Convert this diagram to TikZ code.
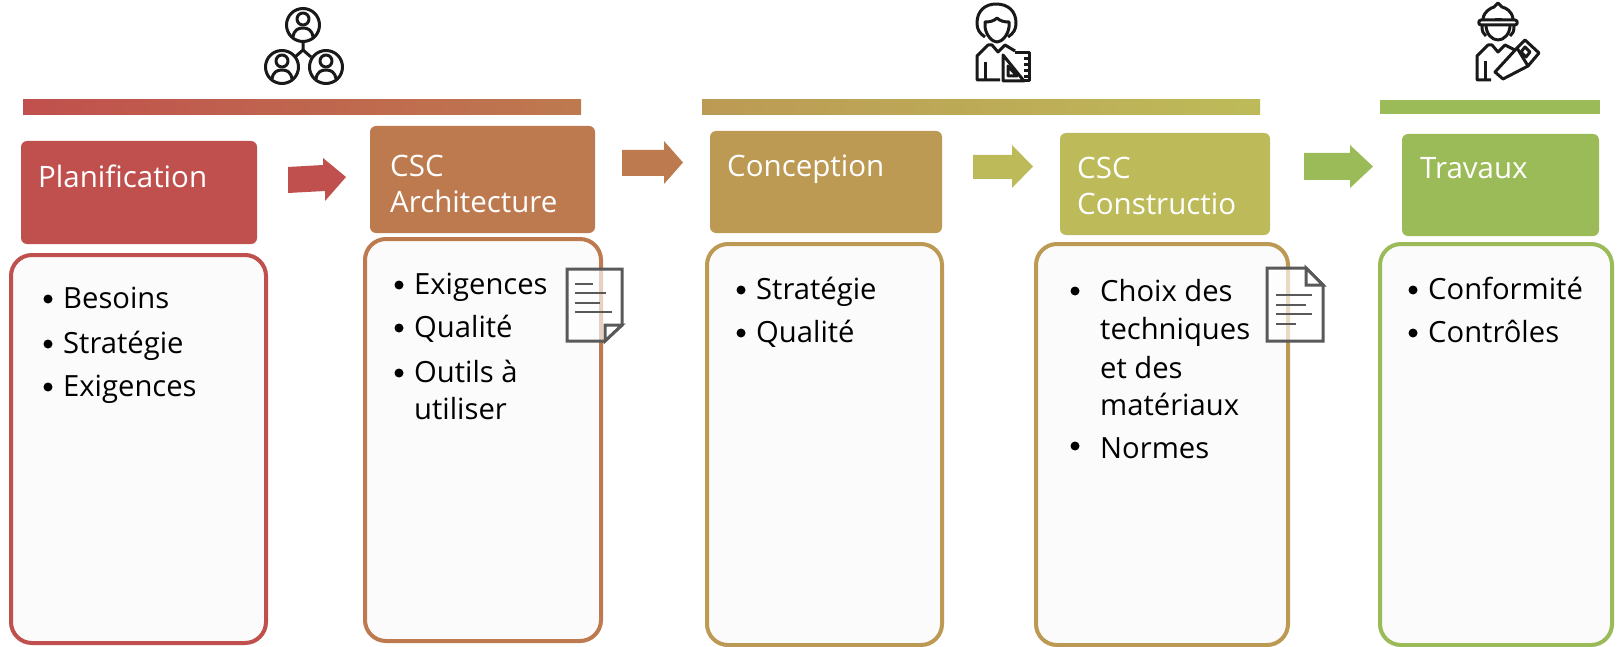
\documentclass[tikz,border=0pt]{standalone}
\usepackage{fontspec}
\setmainfont{Open Sans}
\definecolor{cA}{HTML}{C0504D}
\definecolor{cB}{HTML}{BE7A4F}
\definecolor{cC}{HTML}{BC9A54}
\definecolor{cD}{HTML}{BDBB59}
\definecolor{cE}{HTML}{9BBB59}
\tikzset{
 x=1pt,y=-1pt,
 head/.style={text=white,font=\fontsize{29.5}{36}\selectfont,align=left,anchor=north west,inner sep=0pt},
 hbox/.style={rounded corners=6pt},
 panel/.style={draw,line width=4pt,rounded corners=21pt,fill=black!1.5},
 bul/.style={font=\fontsize{29.2}{36}\selectfont,anchor=base west,inner sep=0pt},
 dot/.style={circle,fill=black,inner sep=0pt,minimum size=9pt},
 ic/.style={line width=3pt,black!90,line join=round},
 doc/.style={draw=black!65,line width=3pt,fill=white,fill opacity=0.65},
 docf/.style={draw=black!65,line width=3pt,fill=white},
 docl/.style={draw=black!65,line width=2.8pt}
}
\newcommand{\bitem}[3]{\node[dot] at (#1-15,#2-9) {}; \node[bul] at (#1,#2) {#3};}
\begin{document}
\begin{tikzpicture}
\useasboundingbox (0,0) rectangle (1619,647);
\fill[white] (0,0) rectangle (1619,647);
% bars
\shade[left color=cA,right color=cB] (23,100) rectangle (581,114.5);
\shade[left color=cC,right color=cD] (702,100) rectangle (1260,114.5);
\fill[cE] (1380,100) rectangle (1600,114.5);
% header boxes
\fill[cA,hbox] (21,141) rectangle (257,244);
\fill[cB,hbox] (370,126) rectangle (595,233);
\fill[cC,hbox] (710,131) rectangle (942,233);
\fill[cD,hbox] (1060,133) rectangle (1270,235);
\fill[cE,hbox] (1402,134) rectangle (1599,236);
\node[head] (h1) at (38,165) {Planification};
\node[head] (h2) at (390,155) {CSC\\Architecture};
\node[head] (h3) at (727,155) {Conception};
\node[head] (h4) at (1077,157) {CSC\\Constructio};
\node[head] (h5) at (1420,157) {Travaux};
% panels
\draw[panel,draw=cA] (11,255) rectangle (266,643);
\draw[panel,draw=cB] (365,239) rectangle (601,641);
\draw[panel,draw=cC] (707,244) rectangle (942,645);
\draw[panel,draw=cC] (1036,244) rectangle (1288,645);
\draw[panel,draw=cE] (1380,244) rectangle (1612,645);
% arrows
\fill[cA] (288,167) -- (323,165) -- (323,158) -- (346,177) -- (325,201) -- (325,191) -- (288,193) -- cycle;
\fill[cB] (622,150) -- (664,150) -- (664,141) -- (683,162.5) -- (664,184) -- (664,176) -- (622,176) -- cycle;
\fill[cD] (973,155) -- (1012,155) -- (1012,145) -- (1033,166.5) -- (1012,188) -- (1012,179) -- (973,179) -- cycle;
\fill[cE] (1304,153) -- (1350,153) -- (1350,145) -- (1373,166.5) -- (1350,188) -- (1350,180) -- (1304,180) -- cycle;
% lists
\bitem{63}{308}{Besoins}
\bitem{63}{353}{Stratégie}
\bitem{63}{396}{Exigences}
\bitem{414}{294}{Exigences}
\bitem{414}{337}{Qualité}
\bitem{414}{382}{Outils à}
\node[bul] (u) at (414,419) {utiliser};
\bitem{756}{299}{Stratégie}
\bitem{756}{342}{Qualité}
\node[dot] at (1075,291) {};
\node[bul] at (1100,301) {Choix des};
\node[bul] at (1100,339) {techniques};
\node[bul] at (1100,378) {et des};
\node[bul] at (1100,415) {matériaux};
\node[dot] at (1075,446) {};
\node[bul] at (1100,458) {Normes};
\bitem{1428}{299}{Conformité}
\bitem{1428}{342}{Contrôles}
% documents
\draw[doc] (567,269) -- (622,269) -- (622,325) -- (605,341) -- (567,341) -- cycle;
\draw[docf] (622,325) -- (605,325) -- (605,341) -- cycle;
\foreach \xa/\xb/\yy in {575/593/284,575/606/293,575/600/303,575/612/312} \draw[docl] (\xa,\yy) -- (\xb,\yy);
\draw[doc] (1267,268) -- (1306,268) -- (1323,285) -- (1323,341) -- (1267,341) -- cycle;
\draw[docf] (1306,268) -- (1306,285) -- (1323,285) -- cycle;
\foreach \xa/\xb/\yy in {1276/1312/295,1276/1306/305,1276/1312/314,1276/1296/324} \draw[docl] (\xa,\yy) -- (\xb,\yy);
% team icon
\begin{scope}[ic]
\foreach \cx/\cy in {303/25,282/67,326/67}{
 \draw (\cx,\cy) circle (16.5);
 \draw (\cx,\cy-6) circle (6);
 \draw (\cx-10,\cy+12) .. controls (\cx-9,\cy+5) and (\cx-5,\cy+3) .. (\cx,\cy+3) .. controls (\cx+5,\cy+3) and (\cx+9,\cy+5) .. (\cx+10,\cy+12);
}
\draw (303,42) -- (303,50) -- (295,57);
\draw (303,50) -- (311,57);
\end{scope}
% designer icon
\begin{scope}[ic]
\draw (985,37) .. controls (979,33) and (977,29) .. (977,23) .. controls (977,11) and (985,4) .. (996,4) .. controls (1008,4) and (1016,11) .. (1016,23) .. controls (1016,29) and (1014,33) .. (1008,37);
\draw (985,22) .. controls (990,22) and (994,21) .. (997,18) .. controls (1000,21) and (1004,22) .. (1009,22) -- (1009,27) .. controls (1008,35) and (1002,42) .. (997,42) .. controls (992,42) and (986,35) .. (985,27) -- cycle;
\draw (1000,80) -- (977,80) -- (977,56) -- (988,45) -- (992,45) -- (998,52) -- (1005,45) -- (1015,51);
\draw (985,62) -- (985,80);
\draw (1003,55) -- (1003,81) -- (1024,81) -- cycle;
\draw (1008,66) -- (1008,76) -- (1017,76) -- cycle;
\draw (1015,53) -- (1029,53) -- (1029,81) -- (1024,81);
\foreach \yy in {59,65,71,77} \draw (1024,\yy) -- (1029,\yy);
\end{scope}
% worker icon
\begin{scope}[ic]
\draw (1483,19) .. controls (1484,11) and (1491,8) .. (1494,7) -- (1498,3) -- (1502,7) .. controls (1506,8) and (1512,11) .. (1513,19);
\draw (1481,20) -- (1515,20) .. controls (1518,20) and (1518,25) .. (1515,25) -- (1481,25) .. controls (1478,25) and (1478,20) .. (1481,20) -- cycle;
\draw (1495,20) -- (1502,20);
\draw (1486,25) .. controls (1486,34) and (1492,40) .. (1498,40) .. controls (1504,40) and (1510,34) .. (1510,25);
\draw (1482,26) .. controls (1482,31) and (1483,34) .. (1486,36);
\draw (1514,26) .. controls (1514,31) and (1513,34) .. (1510,36);
\draw (1491,80) -- (1477,80) -- (1477,56) -- (1488,45) -- (1492,45) -- (1498,52) -- (1505,45) -- (1515,50);
\draw (1485,61) -- (1485,80);
\draw (1517,48) -- (1495,72) -- (1503,79) -- (1528,66);
\draw (1517,48) -- (1525,40) -- (1539,53) -- (1528,66) -- cycle;
\draw (1525,47) -- (1530,52) -- (1526,57) -- (1521,52) -- cycle;
\end{scope}
\end{tikzpicture}
\end{document}
